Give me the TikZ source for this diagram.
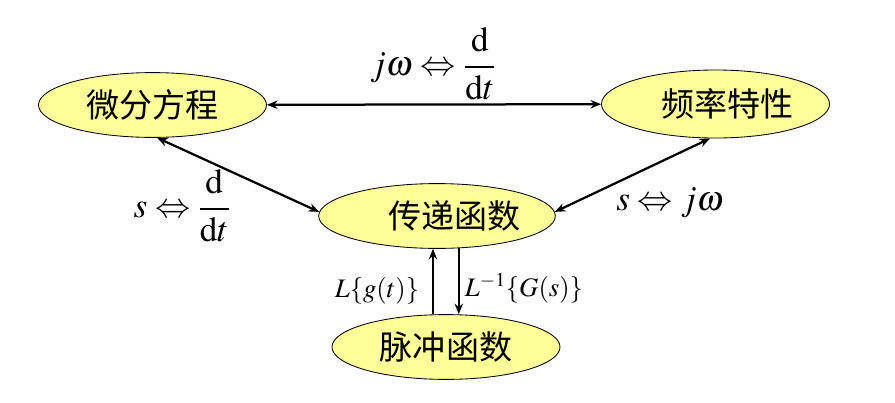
\documentclass[tikz,border=0pt]{standalone}
\usepackage{mathptmx}
\usepackage{fontspec}
\newfontfamily\cjk{Noto Sans CJK SC}
\usetikzlibrary{shapes.geometric,arrows.meta}
\definecolor{paleyellow}{HTML}{FFFF99}
\begin{document}
\begin{tikzpicture}[x=0.025cm,y=-0.025cm,
    block/.style={ellipse,draw,fill=paleyellow,line width=0.6pt,inner sep=0pt,
      minimum width=5.7cm,minimum height=1.62cm,
      font=\cjk\fontsize{23.5}{28}\selectfont},
    tip/.style={line width=1.6pt},
    bigmath/.style={font=\fontsize{25}{30}\selectfont},
    smallmath/.style={font=\fontsize{19}{23}\selectfont}]
  \useasboundingbox (0,0) rectangle (895,402);
  \draw
    (152.5,105) node[block] (diff){微分方程}
    (715.5,104) node[block,minimum height=1.7cm] (freq){\hspace{17pt}频率特性}
    (437,216) node[block] (tf){\hspace{25pt}传递函数}
    (446,347) node[block] (pulse){脉冲函数};
  % labels
  \node[bigmath] (topeq) at (433,64) {$\displaystyle j\omega\Leftrightarrow\frac{\mathrm{d}}{\mathrm{d}t}$};
  \node[bigmath] (lefteq) at (182,206) {$\displaystyle s\Leftrightarrow\frac{\mathrm{d}}{\mathrm{d}t}$};
  \node[bigmath] (righteq) at (670,203) {$s\Leftrightarrow j\omega$};
  \node[smallmath] (lap) at (377,291) {$L\{g(t)\}$};
  \node[smallmath] (ilap) at (524,288) {$L^{-1}\{G(s)\}$};
  \begin{scope}[tip,{Stealth[length=7.5pt,width=6pt]}-{Stealth[length=7.5pt,width=6pt]}]
    \draw (diff) to (freq);
    \draw (diff.-82) to (tf.178);
    \draw (tf.2) to (freq.-99);
  \end{scope}
  \begin{scope}[tip,-{Stealth[length=7.5pt,width=6pt]}]
    \draw (pulse.north -| tf.-97) to (tf.-97);
    \draw (tf.-56) to (pulse.north -| tf.-56);
  \end{scope}
\end{tikzpicture}
\end{document}
